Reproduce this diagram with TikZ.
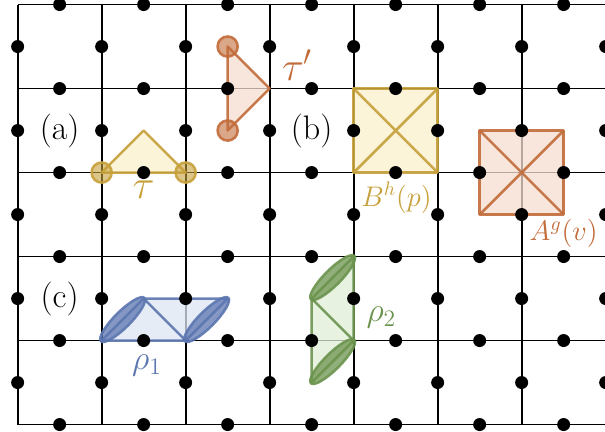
\documentclass[tikz,border=0pt]{standalone}
\usepackage{amsmath}
\usepackage{tikz}

\definecolor{tauyellow}{RGB}{198,160,58}
\definecolor{tauorange}{RGB}{194,108,58}
\definecolor{rhoblue}{RGB}{92,118,176}
\definecolor{rhogreen}{RGB}{108,148,78}
\definecolor{yellowfill}{RGB}{250,240,204}
\definecolor{orangefill}{RGB}{245,222,208}
\definecolor{bluefill}{RGB}{220,229,243}
\definecolor{greenfill}{RGB}{224,237,215}

\begin{document}
\begin{tikzpicture}[
  x=1.5cm, y=1.5cm,
  every node/.style={font=\LARGE},
  gridline/.style={line width=0.9pt},
  patch/.style={line width=1.3pt, line join=round, draw opacity=0.9, fill opacity=0.75},
  endpt/.style={line width=1.3pt, draw opacity=0.9, fill opacity=0.6},
  blob/.style={line width=1.3pt, draw opacity=0.9, fill opacity=0.75}
]
  \useasboundingbox (-0.21,0.054) rectangle (6.9924,-5.077);

  % lattice
  \foreach \j in {0,...,5} \draw[gridline] (0,-\j) -- (7.2,-\j);
  \foreach \i in {0,...,7} \draw[gridline] (\i,0) -- (\i,-5);

  % string tau and its dual
  \draw[patch, tauyellow, fill=yellowfill] (1,-2) -- (1.5,-1.5) -- (2,-2) -- cycle;
  \draw[endpt, tauyellow, fill=tauyellow] (1,-2) circle (0.12);
  \draw[endpt, tauyellow, fill=tauyellow] (2,-2) circle (0.12);

  \draw[patch, tauorange, fill=orangefill] (2.5,-0.5) -- (3,-1) -- (2.5,-1.5) -- cycle;
  \draw[endpt, tauorange, fill=tauorange] (2.5,-0.5) circle (0.12);
  \draw[endpt, tauorange, fill=tauorange] (2.5,-1.5) circle (0.12);

  % plaquette and vertex terms
  \draw[patch, tauyellow, fill=yellowfill] (4,-1) rectangle (5,-2);
  \draw[patch, tauyellow] (4,-1) -- (5,-2) (4,-2) -- (5,-1);

  \draw[patch, tauorange, fill=orangefill] (5.5,-1.5) rectangle (6.5,-2.5);
  \draw[patch, tauorange] (5.5,-1.5) -- (6.5,-2.5) (5.5,-2.5) -- (6.5,-1.5);

  % rho_1
  \draw[patch, rhoblue, fill=bluefill] (1,-4) -- (1.5,-3.5) -- (2.5,-3.5) -- (2,-4) -- cycle;
  \draw[patch, rhoblue] (1.5,-3.5) -- (2,-4);
  \draw[blob, rhoblue, fill=rhoblue, rotate around={45:(1.25,-3.75)}] (1.25,-3.75) ellipse (0.365 and 0.095);
  \draw[blob, rhoblue, fill=rhoblue, rotate around={45:(2.25,-3.75)}] (2.25,-3.75) ellipse (0.365 and 0.095);

  % rho_2
  \draw[patch, rhogreen, fill=greenfill] (4,-3) -- (3.5,-3.5) -- (3.5,-4.5) -- (4,-4) -- cycle;
  \draw[patch, rhogreen] (3.5,-3.5) -- (4,-4);
  \draw[blob, rhogreen, fill=rhogreen, rotate around={45:(3.75,-3.25)}] (3.75,-3.25) ellipse (0.365 and 0.095);
  \draw[blob, rhogreen, fill=rhogreen, rotate around={45:(3.75,-4.25)}] (3.75,-4.25) ellipse (0.365 and 0.095);

  % qubits on the edges
  \foreach \i in {0,...,6} \foreach \j in {0,...,5} \fill (\i+0.5,-\j) circle (3.3pt);
  \foreach \i in {0,...,7} \foreach \j in {0,...,4} \fill (\i,-\j-0.5) circle (3.3pt);

  % labels
  \node (panela) at (0.5,-1.5) {(a)};
  \node (panelb) at (3.5,-1.5) {(b)};
  \node (panelc) at (0.5,-3.5) {(c)};

  \node[text=tauyellow, font=\huge] (taulabel) at (1.5,-2.2)   {$\tau$};
  \node[text=tauorange, font=\huge] (taudual)  at (3.33,-0.72) {$\tau'$};
  \node[text=tauyellow, font=\Large] (plaqlabel) at (4.51,-2.3)  {$B^h(p)$};
  \node[text=tauorange, font=\Large] (vertlabel) at (6.5,-2.73)  {$A^g(v)$};
  \node[text=rhoblue]   (rhoonelabel) at (1.54,-4.3)  {$\rho_1$};
  \node[text=rhogreen]  (rhotwolabel) at (4.33,-3.73) {$\rho_2$};
\end{tikzpicture}
\end{document}
